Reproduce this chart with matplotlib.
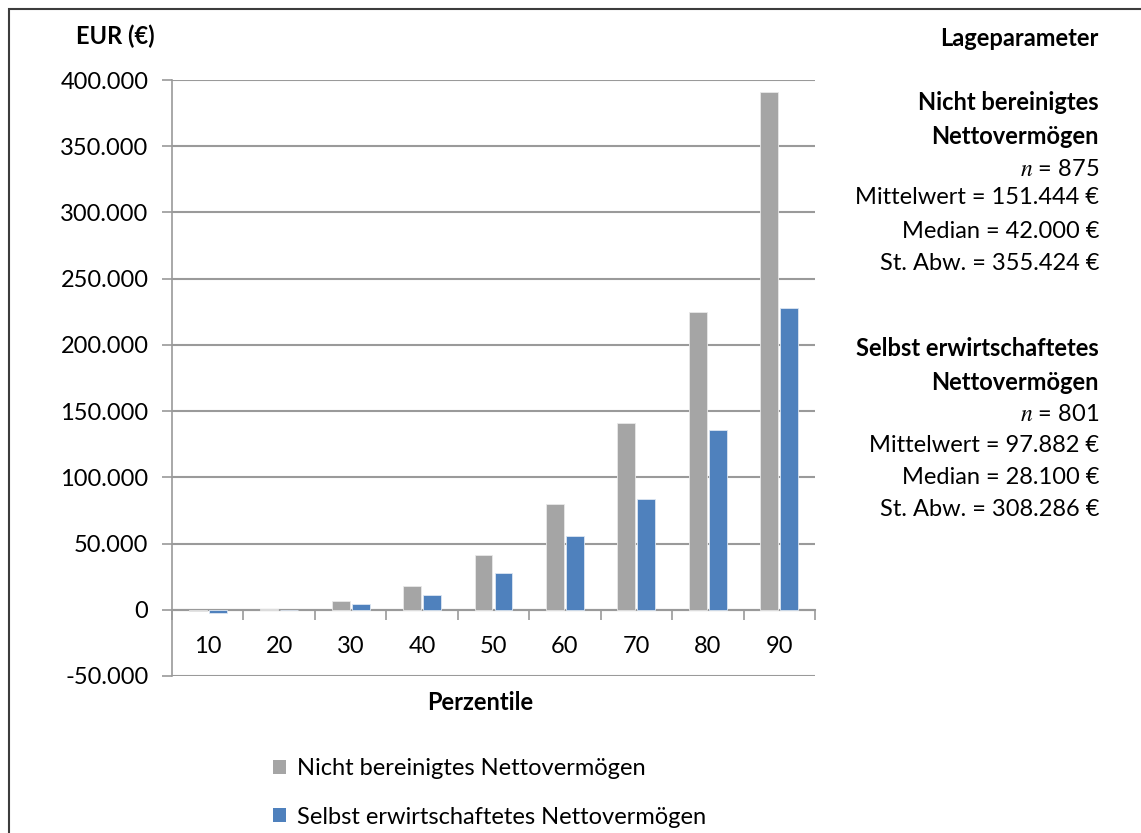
import numpy as np
import matplotlib
matplotlib.use("Agg")
import matplotlib.pyplot as plt
from matplotlib.patches import Rectangle, Patch
from matplotlib.ticker import FuncFormatter, FixedLocator

# Perzentile des Nettovermögens (in EUR)
perzentile = ["10", "20", "30", "40", "50", "60", "70", "80", "90"]
nicht_bereinigt = [-800, 300, 7000, 18300, 41000, 79600, 141000, 225200, 390700]
selbst_erwirtschaftet = [-2500, 0, 4500, 11500, 27400, 55400, 83800, 135700, 227800]

serie_namen = ["Nicht bereinigtes Nettovermögen", "Selbst erwirtschaftetes Nettovermögen"]

# Lageparameter je Serie
lage_nicht = ["Nicht bereinigtes", "Nettovermögen", "$n$ = 875",
              "Mittelwert = 151.444 €", "Median = 42.000 €", "St. Abw. = 355.424 €"]
lage_selbst = ["Selbst erwirtschaftetes", "Nettovermögen", "$n$ = 801",
               "Mittelwert = 97.882 €", "Median = 28.100 €", "St. Abw. = 308.286 €"]

grau = "#A5A5A5"
blau = "#4F81BD"
linie = "#9A9A9A"

plt.rcParams["font.family"] = ["Lato", "DejaVu Sans"]
plt.rcParams["mathtext.fontset"] = "stix"
fs = 17

W, H = 1141, 833
fig = plt.figure(figsize=(W / 100, H / 100), dpi=100)
ax = fig.add_axes([172 / W, 1 - 676 / H, (815 - 172) / W, (676 - 80) / H])

x = np.arange(len(perzentile))
breite = 0.25
ax.bar(x - 0.14, nicht_bereinigt, breite, color=grau, edgecolor="#E8E8E8", linewidth=0.6, zorder=3)
ax.bar(x + 0.14, selbst_erwirtschaftet, breite, color=blau, edgecolor="#DCE6F2", linewidth=0.6, zorder=3)

ax.set_xlim(-0.5, len(perzentile) - 0.5)
ax.set_ylim(-50000, 400000)
ax.set_yticks(np.arange(-50000, 400001, 50000))
ax.yaxis.set_major_formatter(FuncFormatter(lambda v, p: f"{v:,.0f}".replace(",", ".")))

ax.set_xticks(x)
ax.set_xticklabels(perzentile)
ax.xaxis.set_minor_locator(FixedLocator(np.arange(-0.5, len(perzentile), 1.0)))
ax.tick_params(axis="x", which="major", length=0, pad=19, labelsize=fs)
ax.tick_params(axis="x", which="minor", length=7, width=1.2, color=linie, direction="out")
ax.tick_params(axis="y", length=7, width=1.2, color=linie, pad=10, labelsize=fs)

for s in ["top", "right"]:
    ax.spines[s].set_visible(False)
ax.spines["bottom"].set_position(("data", 0))
ax.spines["bottom"].set_color(linie)
ax.spines["bottom"].set_linewidth(1.5)
ax.spines["left"].set_color(linie)
ax.spines["left"].set_linewidth(1.2)

ax.yaxis.grid(True, color=linie, linewidth=1.5)
ax.set_axisbelow(True)

fig.text(115 / W, 1 - 36 / H, "EUR (€)", ha="center", va="center", fontsize=fs, fontweight="bold")
fig.text(480 / W, 1 - 703 / H, "Perzentile", ha="center", va="center", fontsize=fs, fontweight="bold")

# Lageparameter rechts neben dem Diagramm
rechts = 1099 / W
fig.text(rechts, 1 - 38 / H, "Lageparameter", ha="right", va="center", fontsize=fs, fontweight="bold")
for block, y_px in [(lage_nicht, [103, 137, 170, 198, 231, 264]),
                    (lage_selbst, [349, 382, 414, 445, 478, 510])]:
    for i, (txt, yy) in enumerate(zip(block, y_px)):
        fig.text(rechts, 1 - yy / H, txt, ha="right", va="center", fontsize=fs,
                 fontweight="bold" if i < 2 else "normal")

handles = [Patch(facecolor=grau), Patch(facecolor=blau)]
fig.legend(handles, serie_namen, loc="upper left", bbox_to_anchor=(264 / W, 1 - 749 / H),
           frameon=False, fontsize=fs, handlelength=0.55, handleheight=0.55,
           handletextpad=0.45, labelspacing=1.15, borderaxespad=0)

fig.add_artist(Rectangle((8.5 / W, -0.1), 1.2, 1 - 8.5 / H + 0.1, transform=fig.transFigure,
                         fill=False, edgecolor="#3C3C3C", linewidth=1.5))

fig.savefig("out.png", dpi=100)
